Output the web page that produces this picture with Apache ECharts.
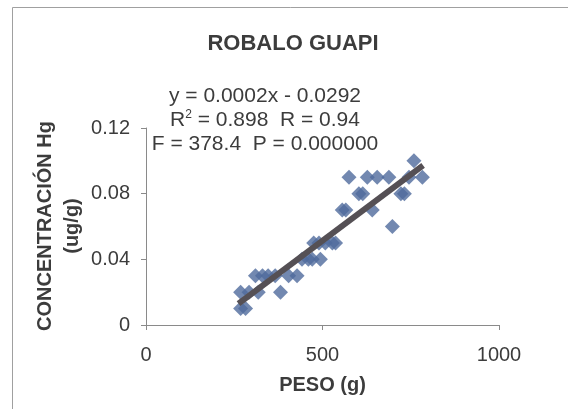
<!DOCTYPE html>
<html><head><meta charset="utf-8">
<script src="https://cdn.jsdelivr.net/npm/echarts@6/dist/echarts.min.js"></script>
<style>html,body{margin:0;padding:0;background:#fff}#c{width:568px;height:409px}</style>
</head><body><div id="c"></div>
<script>
// Data: [peso (g), concentración Hg (ug/g)]
const pesoValues = [268,282,268,292,318,310,330,346,366,381,404,428,442,460,471,494,475,490,508,528,537,556,566,641,603,614,722,732,575,627,655,688,745,783,759,698];
const hgValues   = [0.01,0.01,0.02,0.02,0.02,0.03,0.03,0.03,0.03,0.02,0.03,0.03,0.04,0.04,0.04,0.04,0.05,0.05,0.05,0.05,0.05,0.07,0.07,0.07,0.08,0.08,0.08,0.08,0.09,0.09,0.09,0.09,0.09,0.09,0.10,0.06];
const trendCoef = { intercept: -0.0292, slope: 0.000161 };
const trendRange = [262, 785];
const xTicks = [0, 500, 1000];
const yTicks = [0, 0.04, 0.08, 0.12];

const points = pesoValues.map((x, i) => [x, hgValues[i]]);
const trendLine = trendRange.map(x => [x, trendCoef.intercept + trendCoef.slope * x]);

const txt = '#3c3c3c';
const font = 'Liberation Sans, Arial, sans-serif';
const chart = echarts.init(document.getElementById('c'));
chart.setOption({
  animation: false,
  backgroundColor: '#fff',
  grid: { left: 146, top: 128, width: 353, height: 197, containLabel: false, outerBoundsMode: 'none' },
  xAxis: {
    type: 'value', min: xTicks[0], max: xTicks[xTicks.length-1], interval: 500,
    axisLine: { lineStyle: { color: '#8a8a8a', width: 1 } },
    axisTick: { show: true, inside: false, length: 5, lineStyle: { color: '#8a8a8a' } },
    splitLine: { show: false },
    axisLabel: { color: txt, fontSize: 20, fontFamily: font, margin: 20, formatter: v => String(v) },
    name: 'PESO (g)', nameLocation: 'middle', nameGap: 50,
    nameTextStyle: { color: txt, fontSize: 20, fontWeight: 'bold', fontFamily: font }
  },
  yAxis: {
    type: 'value', min: yTicks[0], max: yTicks[yTicks.length-1], interval: 0.04,
    axisLine: { show: true, lineStyle: { color: '#8a8a8a', width: 1 } },
    axisTick: { show: true, inside: false, length: 5, lineStyle: { color: '#8a8a8a' } },
    splitLine: { show: false },
    axisLabel: { color: txt, fontSize: 20, fontFamily: font, margin: 16,
      formatter: v => v === 0 ? '0' : v.toFixed(2) }
  },
  series: [
    { type: 'scatter', data: points, symbol: 'diamond', symbolSize: 15,
      itemStyle: { color: '#4f6a9c' }, z: 2 },
    { type: 'line', data: trendLine, symbol: 'none', lineStyle: { color: '#555055', width: 6 }, z: 3 }
  ],
  graphic: [
    { type: 'rect', shape: { x: 12.5, y: 7.5, width: 600, height: 450 }, style: { fill: 'none', stroke: '#a0a0a0', lineWidth: 1 }, silent: true },
    { type: 'text', x: 293, y: 44, style: { text: 'ROBALO GUAPI', fill: txt, font: 'bold 22px ' + font, textAlign: 'center', textVerticalAlign: 'middle' } },
    { type: 'text', x: 45, y: 226, rotation: Math.PI / 2, style: { text: 'CONCENTRACIÓN Hg', fill: txt, font: 'bold 20px ' + font, textAlign: 'center', textVerticalAlign: 'middle' } },
    { type: 'text', x: 72, y: 226, rotation: Math.PI / 2, style: { text: '(ug/g)', fill: txt, font: 'bold 20px ' + font, textAlign: 'center', textVerticalAlign: 'middle' } },
    { type: 'text', x: 265, y: 96, style: { text: 'y = 0.0002x - 0.0292', fill: txt, font: '21px ' + font, textAlign: 'center', textVerticalAlign: 'middle' } },
    { type: 'text', x: 265, y: 120, style: {
        text: '{a|R}{s|2}{a| = 0.898  R = 0.94}', textAlign: 'center', textVerticalAlign: 'middle',
        rich: { a: { fill: txt, font: '21px ' + font }, s: { fill: txt, font: '12px ' + font, verticalAlign: 'top', padding: [0,0,10,0] } } } },
    { type: 'text', x: 265, y: 144, style: { text: 'F = 378.4  P = 0.000000', fill: txt, font: '21px ' + font, textAlign: 'center', textVerticalAlign: 'middle' } }
  ]
});
</script></body></html>
